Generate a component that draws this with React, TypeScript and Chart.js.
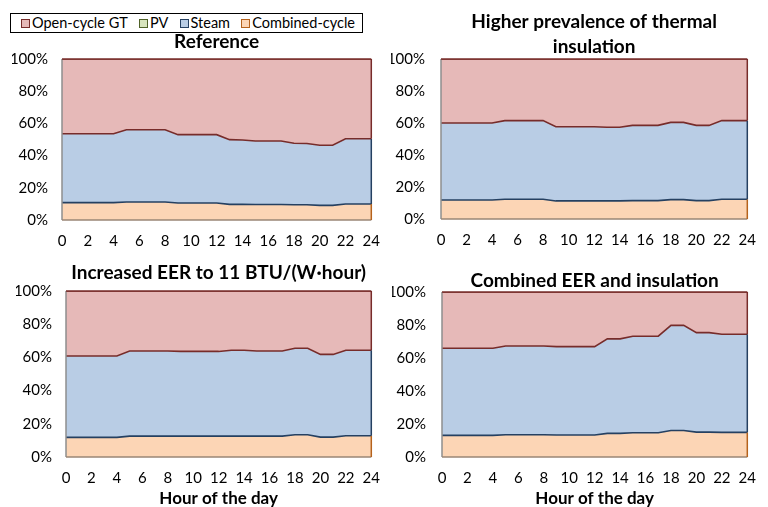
import React, { useEffect, useRef } from "react";
import { Chart, registerables } from "chart.js";

Chart.register(...registerables);

// ---------- data ----------
const HOURS = ["0", "1", "2", "3", "4", "5", "6", "7", "8", "9", "10", "11", "12", "13", "14", "15", "16", "17", "18", "19", "20", "21", "22", "23", "24"];
const X_TICK_EVERY = 2;
const Y_MIN = 0;
const Y_MAX = 100;
const Y_STEP = 20;
const X_TITLE = "Hour of the day";

const SERIES_NAMES = ["Open-cycle GT", "PV", "Steam", "Combined-cycle"];

// Reference
const REF_CC = [10.8, 10.8, 10.8, 10.8, 10.8, 11.2, 11.2, 11.2, 11.2, 10.6, 10.6, 10.6, 10.6, 9.7, 9.7, 9.6, 9.6, 9.6, 9.5, 9.5, 9.1, 9.1, 9.9, 9.9, 9.9];
const REF_STEAM = [42.8, 42.8, 42.8, 42.8, 42.8, 44.9, 44.9, 44.9, 44.9, 42.4, 42.4, 42.4, 42.4, 40.2, 40.0, 39.5, 39.5, 39.5, 38.2, 38.0, 37.3, 37.3, 40.6, 40.6, 40.6];
const REF_PV = [0, 0, 0, 0, 0, 0, 0, 0, 0, 0, 0, 0, 0, 0, 0, 0, 0, 0, 0, 0, 0, 0, 0, 0, 0];
const REF_OCGT = [46.4, 46.4, 46.4, 46.4, 46.4, 43.9, 43.9, 43.9, 43.9, 47.0, 47.0, 47.0, 47.0, 50.1, 50.3, 50.9, 50.9, 50.9, 52.3, 52.5, 53.6, 53.6, 49.5, 49.5, 49.5];

// Higher prevalence of thermal insulation
const INS_CC = [11.9, 11.9, 11.9, 11.9, 11.9, 12.3, 12.3, 12.3, 12.3, 11.3, 11.3, 11.3, 11.3, 11.3, 11.3, 11.5, 11.5, 11.5, 12.1, 12.1, 11.5, 11.5, 12.3, 12.3, 12.3];
const INS_STEAM = [48.1, 48.1, 48.1, 48.1, 48.1, 49.2, 49.2, 49.2, 49.2, 46.4, 46.4, 46.4, 46.4, 46.0, 46.0, 47.0, 47.0, 47.0, 48.3, 48.3, 47.0, 47.0, 49.2, 49.2, 49.2];
const INS_PV = [0, 0, 0, 0, 0, 0, 0, 0, 0, 0, 0, 0, 0, 0, 0, 0, 0, 0, 0, 0, 0, 0, 0, 0, 0];
const INS_OCGT = [40.0, 40.0, 40.0, 40.0, 40.0, 38.5, 38.5, 38.5, 38.5, 42.3, 42.3, 42.3, 42.3, 42.7, 42.7, 41.5, 41.5, 41.5, 39.6, 39.6, 41.5, 41.5, 38.5, 38.5, 38.5];

// Increased EER to 11 BTU/(W·hour)
const EER_CC = [11.8, 11.8, 11.8, 11.8, 11.8, 12.6, 12.6, 12.6, 12.6, 12.6, 12.6, 12.6, 12.6, 12.6, 12.6, 12.6, 12.6, 12.6, 13.4, 13.4, 12.0, 12.0, 12.8, 12.8, 12.8];
const EER_STEAM = [49.0, 49.0, 49.0, 49.0, 49.0, 51.3, 51.3, 51.3, 51.3, 51.0, 51.0, 51.0, 51.0, 51.7, 51.7, 51.3, 51.3, 51.3, 52.1, 52.1, 49.8, 49.8, 51.5, 51.5, 51.5];
const EER_PV = [0, 0, 0, 0, 0, 0, 0, 0, 0, 0, 0, 0, 0, 0, 0, 0, 0, 0, 0, 0, 0, 0, 0, 0, 0];
const EER_OCGT = [39.2, 39.2, 39.2, 39.2, 39.2, 36.1, 36.1, 36.1, 36.1, 36.4, 36.4, 36.4, 36.4, 35.7, 35.7, 36.1, 36.1, 36.1, 34.5, 34.5, 38.2, 38.2, 35.7, 35.7, 35.7];

// Combined EER and insulation
const COMB_CC = [13.1, 13.1, 13.1, 13.1, 13.1, 13.5, 13.5, 13.5, 13.5, 13.3, 13.3, 13.3, 13.3, 14.3, 14.3, 14.7, 14.7, 14.7, 16.1, 16.1, 15.1, 15.1, 14.9, 14.9, 14.9];
const COMB_STEAM = [52.8, 52.8, 52.8, 52.8, 52.8, 53.8, 53.8, 53.8, 53.8, 53.6, 53.6, 53.6, 53.6, 57.3, 57.3, 58.5, 58.5, 58.5, 63.7, 63.7, 60.3, 60.3, 59.5, 59.5, 59.5];
const COMB_PV = [0, 0, 0, 0, 0, 0, 0, 0, 0, 0, 0, 0, 0, 0, 0, 0, 0, 0, 0, 0, 0, 0, 0, 0, 0];
const COMB_OCGT = [34.1, 34.1, 34.1, 34.1, 34.1, 32.7, 32.7, 32.7, 32.7, 33.1, 33.1, 33.1, 33.1, 28.4, 28.4, 26.8, 26.8, 26.8, 20.2, 20.2, 24.6, 24.6, 25.6, 25.6, 25.6];

// ---------- styles ----------
const FILL = { ocgt: "#E6B9B8", pv: "#D7E4BD", steam: "#B9CDE5", cc: "#FCD5B5" };
const LINE = { ocgt: "#772C2A", pv: "#4F6228", steam: "#254061", cc: "#B5621C" };
const FONT = "Lato, 'Open Sans', sans-serif";
const W = 768;
const H = 507;
const TITLE_SIZE = 19;
const TITLE_LH = 1.3;

type Box = { x: number; y: number; w: number; h: number };
type PanelDef = {
  title: string[];
  cc: number[];
  steam: number[];
  pv: number[];
  ocgt: number[];
  box: Box;
  plot: { l: number; t: number; r: number; b: number };
  titleGap: number;
  yPad: number;
  xTitle: boolean;
};

const PANELS: PanelDef[] = [
  { title: ["Reference"], cc: REF_CC, steam: REF_STEAM, pv: REF_PV, ocgt: REF_OCGT, box: { x: 0, y: 0, w: 392, h: 250 }, plot: { l: 62, t: 59, r: 376, b: 220 }, titleGap: 5, yPad: 14, xTitle: false },
  { title: ["Higher prevalence of thermal", "insulation"], cc: INS_CC, steam: INS_STEAM, pv: INS_PV, ocgt: INS_OCGT, box: { x: 384, y: 0, w: 384, h: 250 }, plot: { l: 441, t: 59, r: 749, b: 219 }, titleGap: 0, yPad: 16, xTitle: false },
  { title: ["Increased EER to 11 BTU/(W\u00B7hour)"], cc: EER_CC, steam: EER_STEAM, pv: EER_PV, ocgt: EER_OCGT, box: { x: 0, y: 250, w: 392, h: 257 }, plot: { l: 66, t: 291, r: 376, b: 457 }, titleGap: 6, yPad: 14, xTitle: true },
  { title: ["Combined EER and insulation"], cc: COMB_CC, steam: COMB_STEAM, pv: COMB_PV, ocgt: COMB_OCGT, box: { x: 384, y: 250, w: 384, h: 257 }, plot: { l: 442, t: 292, r: 750, b: 457 }, titleGap: -1.5, yPad: 16, xTitle: true },
];

const edgePlugin = {
  id: "edges",
  afterDatasetsDraw(chart: any) {
    const { ctx, chartArea } = chart;
    const y = chart.scales.y;
    const n = chart.data.labels.length - 1;
    const ds = chart.data.datasets;
    const ccTop = ds[0].data[n];
    const steamTop = ccTop + ds[1].data[n] + ds[2].data[n];
    const yCc = y.getPixelForValue(ccTop);
    const ySt = y.getPixelForValue(steamTop);
    const yTop = y.getPixelForValue(Y_MAX);
    const yBot = y.getPixelForValue(Y_MIN);
    const { left, right } = chartArea;
    ctx.save();
    ctx.lineWidth = 1.5;
    const seg = (x1: number, y1: number, x2: number, y2: number, c: string) => {
      ctx.strokeStyle = c;
      ctx.beginPath();
      ctx.moveTo(x1, y1);
      ctx.lineTo(x2, y2);
      ctx.stroke();
    };
    seg(left, yTop, left, yBot, "#8E8E8E");
    seg(left, yBot, right, yBot, "#9A8676");
    seg(right, yBot, right, yCc, LINE.cc);
    seg(right, yCc, right, ySt, LINE.steam);
    seg(right, ySt, right, yTop, LINE.ocgt);
    seg(left, yTop, right, yTop, LINE.ocgt);
    ctx.restore();
  },
};

function Panel({ def }: { def: PanelDef }) {
  const ref = useRef<HTMLCanvasElement>(null);
  useEffect(() => {
    if (!ref.current) return;
    const titleH = def.title.length * TITLE_SIZE * TITLE_LH + def.titleGap;
    const yW = 50;
    const xH = def.xTitle ? 50 : 30;
    const p = def.plot;
    const b = def.box;
    const chart = new Chart(ref.current, {
      type: "line",
      data: {
        labels: HOURS,
        datasets: [
          { label: SERIES_NAMES[3], data: def.cc, fill: "origin", backgroundColor: FILL.cc, borderColor: LINE.steam, borderWidth: 1.6 },
          { label: SERIES_NAMES[2], data: def.steam, fill: "-1", backgroundColor: FILL.steam, borderColor: LINE.ocgt, borderWidth: 1.6 },
          { label: SERIES_NAMES[1], data: def.pv, fill: "-1", backgroundColor: FILL.pv, borderColor: LINE.pv, borderWidth: 0 },
          { label: SERIES_NAMES[0], data: def.ocgt, fill: "-1", backgroundColor: FILL.ocgt, borderColor: LINE.ocgt, borderWidth: 1.6 },
        ],
      },
      options: {
        responsive: false,
        animation: false,
        devicePixelRatio: 1,
        layout: {
          padding: {
            left: p.l - b.x - yW,
            right: b.x + b.w - p.r,
            top: p.t - b.y - titleH,
            bottom: b.y + b.h - p.b - xH,
          },
        },
        elements: { point: { radius: 0 }, line: { tension: 0 } },
        plugins: {
          legend: { display: false },
          tooltip: { enabled: false },
          title: {
            display: true,
            text: def.title,
            fullSize: false,
            color: "#000",
            font: { family: FONT, size: TITLE_SIZE, weight: "bold", lineHeight: TITLE_LH },
            padding: { top: 0, bottom: def.titleGap },
          },
        },
        scales: {
          x: {
            type: "category",
            offset: false,
            grid: { display: false, drawTicks: false },
            border: { display: false },
            ticks: {
              autoSkip: false,
              maxRotation: 0,
              padding: 12,
              color: "#000",
              font: { family: FONT, size: 15 },
              callback: (_v: any, i: number) => (i % X_TICK_EVERY === 0 ? HOURS[i] : ""),
            },
            title: {
              display: def.xTitle,
              text: X_TITLE,
              color: "#000",
              font: { family: FONT, size: 17, weight: "bold", lineHeight: 1 },
              padding: { top: 0, bottom: 0 },
            },
            afterFit: (s: any) => {
              s.height = xH;
            },
          },
          y: {
            stacked: true,
            min: Y_MIN,
            max: Y_MAX,
            grid: { display: false, drawTicks: false },
            border: { display: false },
            ticks: {
              stepSize: Y_STEP,
              padding: def.yPad,
              color: "#000",
              font: { family: FONT, size: 15 },
              callback: (v: any) => `${v}%`,
            },
            afterFit: (s: any) => {
              s.width = yW;
            },
          },
        },
      },
      plugins: [edgePlugin],
    } as any);
    return () => chart.destroy();
  }, [def]);
  const b = def.box;
  return (
    <canvas
      ref={ref}
      width={b.w}
      height={b.h}
      style={{ position: "absolute", left: b.x, top: b.y, width: b.w, height: b.h }}
    />
  );
}

const LEGEND_ITEMS = [
  { name: SERIES_NAMES[0], fill: FILL.ocgt, line: LINE.ocgt },
  { name: SERIES_NAMES[1], fill: FILL.pv, line: LINE.pv },
  { name: SERIES_NAMES[2], fill: FILL.steam, line: LINE.steam },
  { name: SERIES_NAMES[3], fill: FILL.cc, line: LINE.cc },
];

function Legend() {
  return (
    <div
      style={{
        position: "absolute",
        left: 10,
        top: 13,
        width: 353,
        height: 20,
        boxSizing: "border-box",
        border: "1px solid #000",
        display: "flex",
        alignItems: "center",
        justifyContent: "space-between",
        paddingLeft: 10,
        paddingRight: 7,
        fontFamily: FONT,
        fontSize: 14.5,
        color: "#000",
        whiteSpace: "nowrap",
        background: "#fff",
        zIndex: 5,
      }}
    >
      {LEGEND_ITEMS.map((it) => (
        <div key={it.name} style={{ display: "flex", alignItems: "center" }}>
          <span
            style={{
              display: "inline-block",
              width: 9,
              height: 9,
              boxSizing: "border-box",
              background: it.fill,
              border: `1px solid ${it.line}`,
              marginRight: 2,
            }}
          />
          <span style={{ lineHeight: "18px" }}>{it.name}</span>
        </div>
      ))}
    </div>
  );
}

export default function App() {
  return (
    <div style={{ position: "fixed", left: 0, top: 0, width: W, height: H, background: "#fff", overflow: "hidden" }}>
      {PANELS.map((d, i) => (
        <Panel key={i} def={d} />
      ))}
      <Legend />
    </div>
  );
}
